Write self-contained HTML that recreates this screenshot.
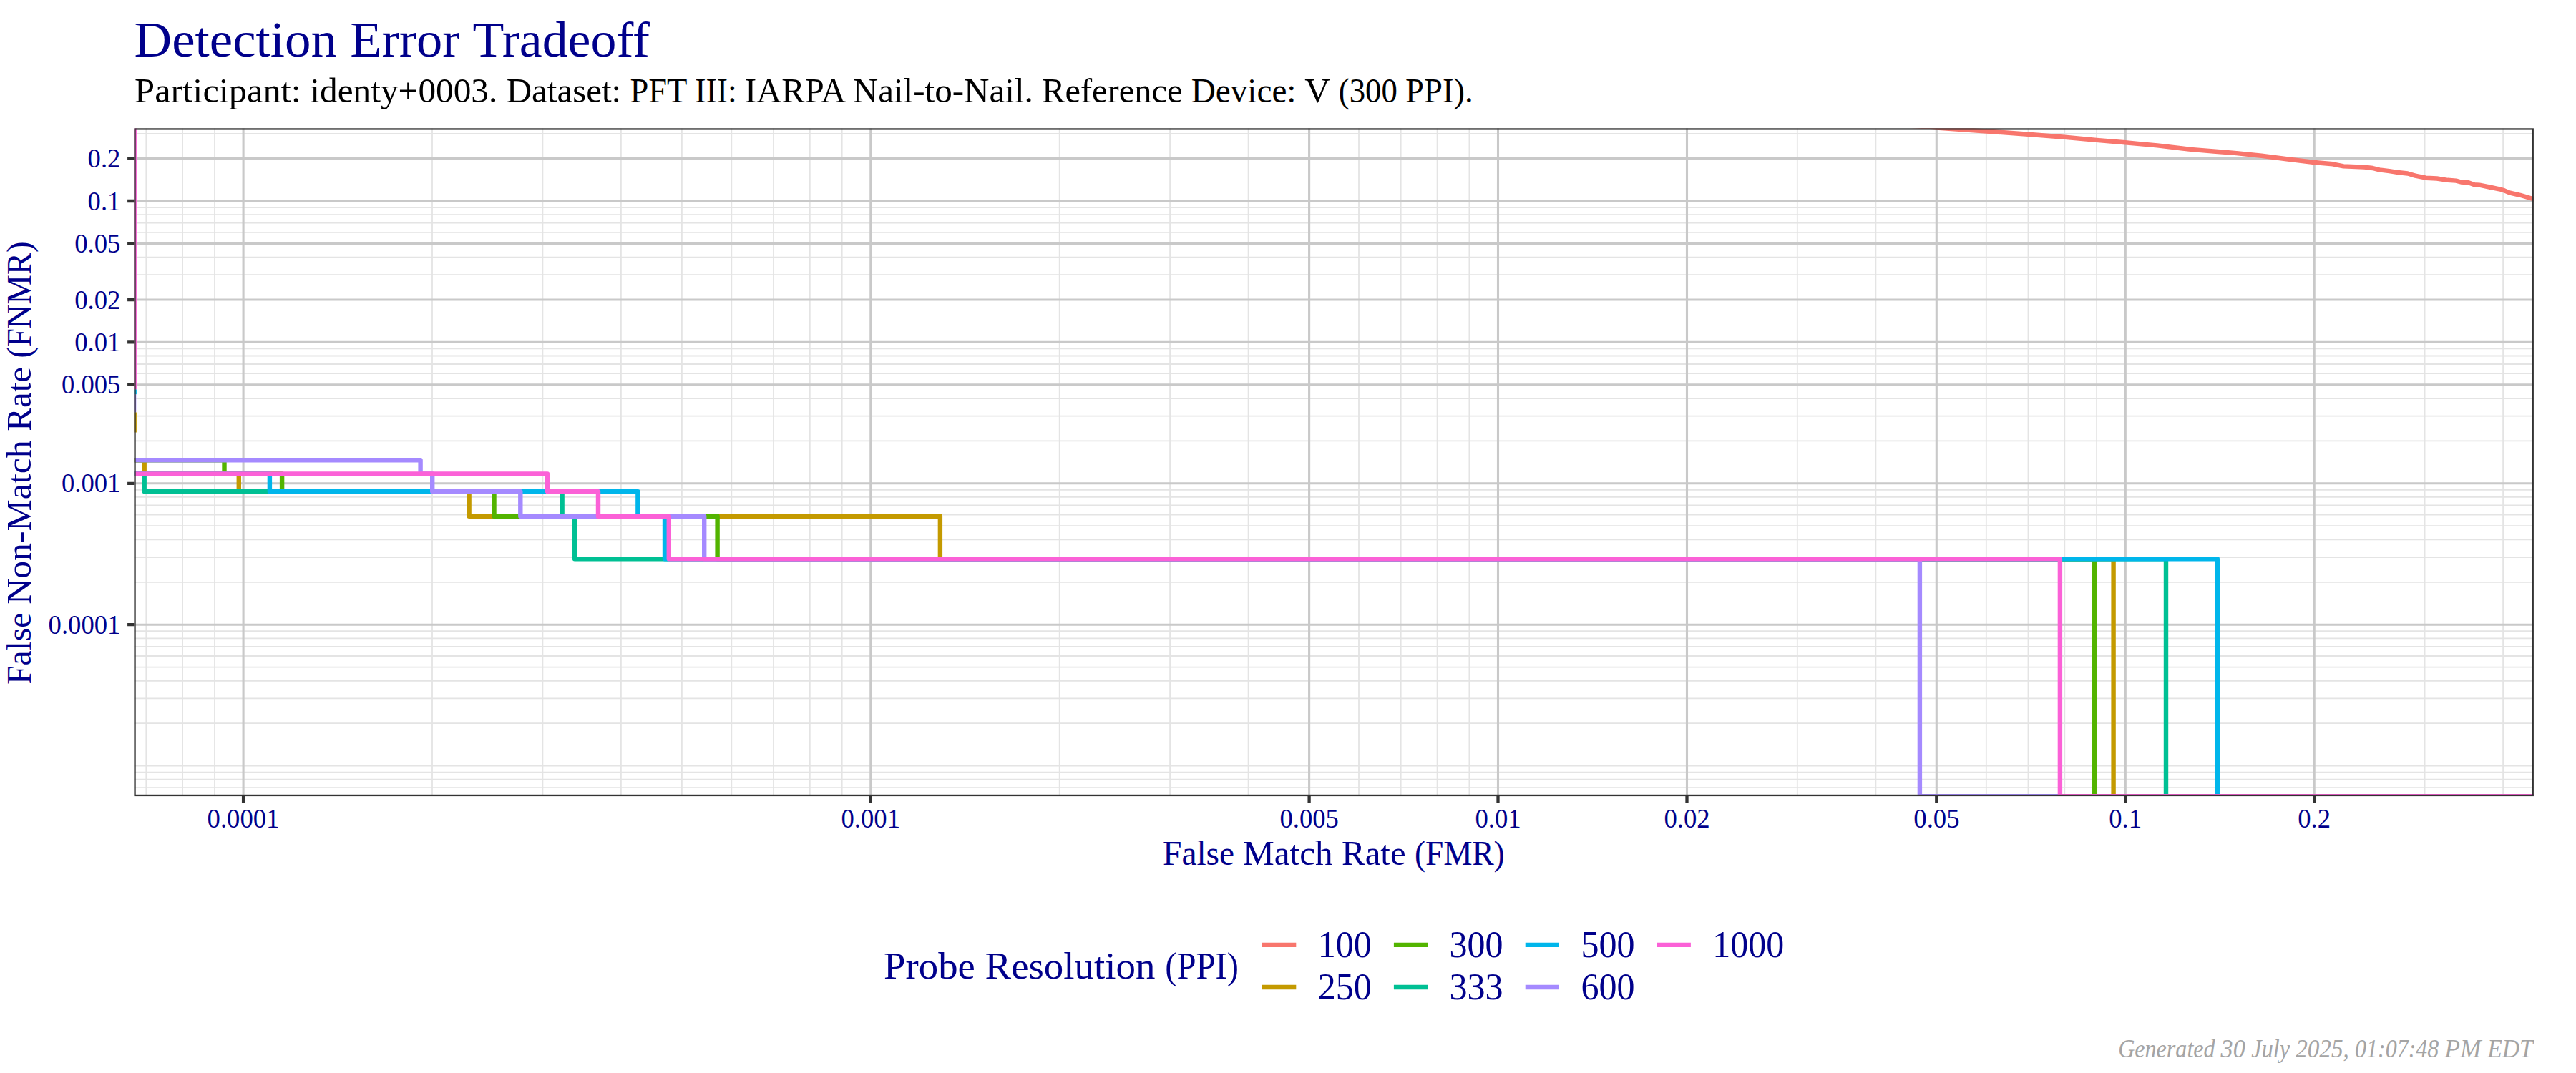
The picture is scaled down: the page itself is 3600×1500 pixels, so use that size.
<!DOCTYPE html>
<html lang="en"><head><meta charset="utf-8"><title>Detection Error Tradeoff</title>
<style>html,body{margin:0;padding:0;background:#fff}svg{display:block}text{font-family:"Liberation Serif",serif}</style></head><body>
<svg width="3600" height="1500" viewBox="0 0 3600 1500">
<rect width="3600" height="1500" fill="#fff"/>
<defs><clipPath id="pc"><rect x="187.4" y="179.3" width="3353.5" height="933.8"/></clipPath></defs>
<g clip-path="url(#pc)">
<path d="M204.3 179.3V1113.1M255.1 179.3V1113.1M300.0 179.3V1113.1M604.0 179.3V1113.1M758.4 179.3V1113.1M867.9 179.3V1113.1M952.9 179.3V1113.1M1022.3 179.3V1113.1M1081.0 179.3V1113.1M1131.8 179.3V1113.1M1176.7 179.3V1113.1M1480.7 179.3V1113.1M1635.1 179.3V1113.1M1744.6 179.3V1113.1M1899.0 179.3V1113.1M1957.7 179.3V1113.1M2008.6 179.3V1113.1M2053.4 179.3V1113.1M2511.8 179.3V1113.1M2621.4 179.3V1113.1M2775.8 179.3V1113.1M2834.5 179.3V1113.1M2885.3 179.3V1113.1M2930.1 179.3V1113.1M3388.6 179.3V1113.1M3498.1 179.3V1113.1M187.4 1101.2H3540.9M187.4 1089.7H3540.9M187.4 1079.6H3540.9M187.4 1070.6H3540.9M187.4 1011.2H3540.9M187.4 976.4H3540.9M187.4 951.8H3540.9M187.4 932.6H3540.9M187.4 917.0H3540.9M187.4 903.8H3540.9M187.4 892.3H3540.9M187.4 882.2H3540.9M187.4 813.8H3540.9M187.4 779.0H3540.9M187.4 754.4H3540.9M187.4 735.2H3540.9M187.4 719.6H3540.9M187.4 706.4H3540.9M187.4 694.9H3540.9M187.4 684.8H3540.9M187.4 616.4H3540.9M187.4 581.6H3540.9M187.4 557.0H3540.9M187.4 522.2H3540.9M187.4 509.0H3540.9M187.4 497.5H3540.9M187.4 487.4H3540.9M187.4 384.2H3540.9M187.4 359.6H3540.9M187.4 324.8H3540.9M187.4 311.6H3540.9M187.4 300.1H3540.9M187.4 290.0H3540.9M187.4 186.8H3540.9" stroke="#E4E4E4" stroke-width="1.8" fill="none"/>
<path d="M340.1 179.3V1113.1M1216.8 179.3V1113.1M1829.6 179.3V1113.1M2093.5 179.3V1113.1M2357.5 179.3V1113.1M2706.3 179.3V1113.1M2970.3 179.3V1113.1M3234.2 179.3V1113.1M187.4 221.6H3540.9M187.4 281.0H3540.9M187.4 340.4H3540.9M187.4 419.0H3540.9M187.4 478.4H3540.9M187.4 537.8H3540.9M187.4 675.8H3540.9M187.4 873.2H3540.9" stroke="#C9C9C9" stroke-width="3.1" fill="none"/>
<path d="M187.4 179.3V544.6" stroke="#FB61D7" stroke-width="7.0" fill="none"/>
<path d="M187.4 544.6V551.3" stroke="#00B6EB" stroke-width="7.0" fill="none"/>
<path d="M187.4 551.3V576.5" stroke="#A58AFF" stroke-width="5.800000000000001" fill="none"/>
<path d="M187.4 576.5V604.5" stroke="#C49A00" stroke-width="7.0" fill="none"/>
<path d="M2600.0 171.0L2650.0 174.5L2690.0 177.0L2706.3 178.5L2776.2 183.5L2834.4 187.7L2885.6 191.7L2929.9 195.9L2970.1 199.2L2990.0 201.1L3014.9 203.4L3061.5 208.9L3096.5 211.8L3125.6 214.1L3160.5 217.8L3201.3 223.0L3234.2 227.0L3260.0 229.3L3275.1 232.4L3304.3 233.6L3315.9 235.0L3325.2 237.4L3339.2 239.1L3348.5 240.7L3364.8 242.5L3375.3 245.6L3390.4 248.7L3405.6 249.5L3420.7 251.8L3432.4 252.6L3439.3 254.5L3449.8 255.2L3458.0 258.3L3465.0 258.7L3478.9 261.5L3492.9 264.3L3499.9 266.4L3506.9 269.4L3522.0 272.8L3538.9 277.8L3546.0 279.9" stroke="#F8766D" stroke-width="6.4" fill="none" stroke-linejoin="round"/>
<path d="M187.4 643.3L201.7 643.3L201.7 662.4L333.8 662.4L333.8 687.1L655.6 687.1L655.6 721.8L1313.9 721.8L1313.9 781.2L2953.6 781.2L2953.6 1113.1L3540.9 1113.1" stroke="#C49A00" stroke-width="6.4" fill="none" stroke-linejoin="round"/>
<path d="M187.4 643.3L313.5 643.3L313.5 662.4L394.1 662.4L394.1 687.1L690.5 687.1L690.5 721.8L1002.6 721.8L1002.6 781.2L2927.1 781.2L2927.1 1113.1L3540.9 1113.1" stroke="#53B400" stroke-width="6.4" fill="none" stroke-linejoin="round"/>
<path d="M187.4 662.4L201.7 662.4L201.7 687.1L785.6 687.1L785.6 721.8L803.1 721.8L803.1 781.2L3027.0 781.2L3027.0 1113.1L3540.9 1113.1" stroke="#00C094" stroke-width="6.4" fill="none" stroke-linejoin="round"/>
<path d="M187.4 662.4L376.9 662.4L376.9 687.1L891.4 687.1L891.4 721.8L929.0 721.8L929.0 781.2L3098.8 781.2L3098.8 1113.1L3540.9 1113.1" stroke="#00B6EB" stroke-width="6.4" fill="none" stroke-linejoin="round"/>
<path d="M187.4 643.3L587.6 643.3L587.6 662.4L604.2 662.4L604.2 687.1L727.3 687.1L727.3 721.8L984.2 721.8L984.2 781.2L2682.9 781.2L2682.9 1113.1L3540.9 1113.1" stroke="#A58AFF" stroke-width="6.4" fill="none" stroke-linejoin="round"/>
<path d="M187.4 662.4L764.9 662.4L764.9 687.1L836.0 687.1L836.0 721.8L934.8 721.8L934.8 781.2L2878.9 781.2L2878.9 1113.1L3540.9 1113.1" stroke="#FB61D7" stroke-width="6.4" fill="none" stroke-linejoin="round"/>
</g>
<rect x="188.55" y="180.45" width="3351.20" height="931.50" fill="none" stroke="#333333" stroke-width="2.3"/>
<path d="M340.1 1113.1v8.8M1216.8 1113.1v8.8M1829.6 1113.1v8.8M2093.5 1113.1v8.8M2357.5 1113.1v8.8M2706.3 1113.1v8.8M2970.3 1113.1v8.8M3234.2 1113.1v8.8M187.4 221.6h-9.3M187.4 281.0h-9.3M187.4 340.4h-9.3M187.4 419.0h-9.3M187.4 478.4h-9.3M187.4 537.8h-9.3M187.4 675.8h-9.3M187.4 873.2h-9.3" stroke="#333333" stroke-width="4.3" fill="none"/>
<text x="289.6" y="1156.9" font-size="38.0" text-anchor="start" fill="#00008B" textLength="100.8" lengthAdjust="spacingAndGlyphs">0.0001</text>
<text x="1175.5" y="1156.9" font-size="38.0" text-anchor="start" fill="#00008B" textLength="82.5" lengthAdjust="spacingAndGlyphs">0.001</text>
<text x="1788.4" y="1156.9" font-size="38.0" text-anchor="start" fill="#00008B" textLength="82.5" lengthAdjust="spacingAndGlyphs">0.005</text>
<text x="2061.4" y="1156.9" font-size="38.0" text-anchor="start" fill="#00008B" textLength="64.2" lengthAdjust="spacingAndGlyphs">0.01</text>
<text x="2325.4" y="1156.9" font-size="38.0" text-anchor="start" fill="#00008B" textLength="64.2" lengthAdjust="spacingAndGlyphs">0.02</text>
<text x="2674.3" y="1156.9" font-size="38.0" text-anchor="start" fill="#00008B" textLength="64.2" lengthAdjust="spacingAndGlyphs">0.05</text>
<text x="2947.3" y="1156.9" font-size="38.0" text-anchor="start" fill="#00008B" textLength="45.8" lengthAdjust="spacingAndGlyphs">0.1</text>
<text x="3211.3" y="1156.9" font-size="38.0" text-anchor="start" fill="#00008B" textLength="45.8" lengthAdjust="spacingAndGlyphs">0.2</text>
<text x="122.6" y="234.2" font-size="38.0" text-anchor="start" fill="#00008B" textLength="45.8" lengthAdjust="spacingAndGlyphs">0.2</text>
<text x="122.6" y="293.6" font-size="38.0" text-anchor="start" fill="#00008B" textLength="45.8" lengthAdjust="spacingAndGlyphs">0.1</text>
<text x="104.2" y="353.0" font-size="38.0" text-anchor="start" fill="#00008B" textLength="64.2" lengthAdjust="spacingAndGlyphs">0.05</text>
<text x="104.2" y="431.6" font-size="38.0" text-anchor="start" fill="#00008B" textLength="64.2" lengthAdjust="spacingAndGlyphs">0.02</text>
<text x="104.2" y="491.0" font-size="38.0" text-anchor="start" fill="#00008B" textLength="64.2" lengthAdjust="spacingAndGlyphs">0.01</text>
<text x="85.9" y="550.4" font-size="38.0" text-anchor="start" fill="#00008B" textLength="82.5" lengthAdjust="spacingAndGlyphs">0.005</text>
<text x="85.9" y="688.4" font-size="38.0" text-anchor="start" fill="#00008B" textLength="82.5" lengthAdjust="spacingAndGlyphs">0.001</text>
<text x="67.6" y="885.8" font-size="38.0" text-anchor="start" fill="#00008B" textLength="100.8" lengthAdjust="spacingAndGlyphs">0.0001</text>
<text y="78.8" font-size="69.2" fill="#00008B" xml:space="preserve"><tspan x="187.5" textLength="301.8" lengthAdjust="spacingAndGlyphs">Detection </tspan><tspan x="489.3" textLength="171.2" lengthAdjust="spacingAndGlyphs">Error </tspan><tspan x="660.5" textLength="247.5" lengthAdjust="spacingAndGlyphs">Tradeoff</tspan></text>
<text y="142.7" font-size="47.6" fill="#000" xml:space="preserve"><tspan x="188.1" textLength="245.2" lengthAdjust="spacingAndGlyphs">Participant: </tspan><tspan x="433.3" textLength="274.4" lengthAdjust="spacingAndGlyphs">identy+0003. </tspan><tspan x="707.7" textLength="172.7" lengthAdjust="spacingAndGlyphs">Dataset: </tspan><tspan x="880.4" textLength="90.8" lengthAdjust="spacingAndGlyphs">PFT </tspan><tspan x="971.2" textLength="69.9" lengthAdjust="spacingAndGlyphs">III: </tspan><tspan x="1041.1" textLength="150.6" lengthAdjust="spacingAndGlyphs">IARPA </tspan><tspan x="1191.7" textLength="264.4" lengthAdjust="spacingAndGlyphs">Nail-to-Nail. </tspan><tspan x="1456.1" textLength="208.6" lengthAdjust="spacingAndGlyphs">Reference </tspan><tspan x="1664.7" textLength="158.6" lengthAdjust="spacingAndGlyphs">Device: </tspan><tspan x="1823.3" textLength="47.5" lengthAdjust="spacingAndGlyphs">V </tspan><tspan x="1870.8" textLength="93.3" lengthAdjust="spacingAndGlyphs">(300 </tspan><tspan x="1964.1" textLength="94.5" lengthAdjust="spacingAndGlyphs">PPI).</tspan></text>
<text y="1209.2" font-size="47.6" fill="#00008B" xml:space="preserve"><tspan x="1625.0" textLength="112.0" lengthAdjust="spacingAndGlyphs">False </tspan><tspan x="1737.0" textLength="138.0" lengthAdjust="spacingAndGlyphs">Match </tspan><tspan x="1875.0" textLength="101.9" lengthAdjust="spacingAndGlyphs">Rate </tspan><tspan x="1976.9" textLength="125.8" lengthAdjust="spacingAndGlyphs">(FMR)</tspan></text>
<text y="0.0" font-size="47.6" fill="#00008B" xml:space="preserve" transform="translate(42.85 956.0) rotate(-90)"><tspan x="-0.8" textLength="112.0" lengthAdjust="spacingAndGlyphs">False </tspan><tspan x="111.2" textLength="242.0" lengthAdjust="spacingAndGlyphs">Non-Match </tspan><tspan x="353.2" textLength="102.2" lengthAdjust="spacingAndGlyphs">Rate </tspan><tspan x="455.4" textLength="163.1" lengthAdjust="spacingAndGlyphs">(FNMR)</tspan></text>
<text y="1367.9" font-size="53.1" fill="#00008B" xml:space="preserve"><tspan x="1235.1" textLength="141.4" lengthAdjust="spacingAndGlyphs">Probe </tspan><tspan x="1376.5" textLength="251.7" lengthAdjust="spacingAndGlyphs">Resolution </tspan><tspan x="1628.2" textLength="102.8" lengthAdjust="spacingAndGlyphs">(PPI)</tspan></text>
<path d="M1764.0 1320.9h47.3" stroke="#F8766D" stroke-width="6.3"/>
<text x="1841.7" y="1338.2" font-size="51.9" text-anchor="start" fill="#00008B" textLength="75.0" lengthAdjust="spacingAndGlyphs">100</text>
<path d="M1947.9 1320.9h47.3" stroke="#53B400" stroke-width="6.3"/>
<text x="2025.6" y="1338.2" font-size="51.9" text-anchor="start" fill="#00008B" textLength="75.0" lengthAdjust="spacingAndGlyphs">300</text>
<path d="M2131.7 1320.9h47.3" stroke="#00B6EB" stroke-width="6.3"/>
<text x="2209.4" y="1338.2" font-size="51.9" text-anchor="start" fill="#00008B" textLength="75.0" lengthAdjust="spacingAndGlyphs">500</text>
<path d="M2315.6 1320.9h47.3" stroke="#FB61D7" stroke-width="6.3"/>
<text x="2393.3" y="1338.2" font-size="51.9" text-anchor="start" fill="#00008B" textLength="100.0" lengthAdjust="spacingAndGlyphs">1000</text>
<path d="M1764.0 1380.0h47.3" stroke="#C49A00" stroke-width="6.3"/>
<text x="1841.7" y="1397.0" font-size="51.9" text-anchor="start" fill="#00008B" textLength="75.0" lengthAdjust="spacingAndGlyphs">250</text>
<path d="M1947.9 1380.0h47.3" stroke="#00C094" stroke-width="6.3"/>
<text x="2025.6" y="1397.0" font-size="51.9" text-anchor="start" fill="#00008B" textLength="75.0" lengthAdjust="spacingAndGlyphs">333</text>
<path d="M2131.7 1380.0h47.3" stroke="#A58AFF" stroke-width="6.3"/>
<text x="2209.4" y="1397.0" font-size="51.9" text-anchor="start" fill="#00008B" textLength="75.0" lengthAdjust="spacingAndGlyphs">600</text>
<text y="1478.0" font-size="35.0" fill="#A4A4A4" xml:space="preserve" font-style="italic"><tspan x="2960.2" textLength="143.4" lengthAdjust="spacingAndGlyphs">Generated </tspan><tspan x="3103.6" textLength="42.7" lengthAdjust="spacingAndGlyphs">30 </tspan><tspan x="3146.3" textLength="61.9" lengthAdjust="spacingAndGlyphs">July </tspan><tspan x="3208.2" textLength="82.9" lengthAdjust="spacingAndGlyphs">2025, </tspan><tspan x="3291.1" textLength="125.2" lengthAdjust="spacingAndGlyphs">01:07:48 </tspan><tspan x="3416.3" textLength="60.0" lengthAdjust="spacingAndGlyphs">PM </tspan><tspan x="3476.3" textLength="63.4" lengthAdjust="spacingAndGlyphs">EDT</tspan></text>
</svg></body></html>
